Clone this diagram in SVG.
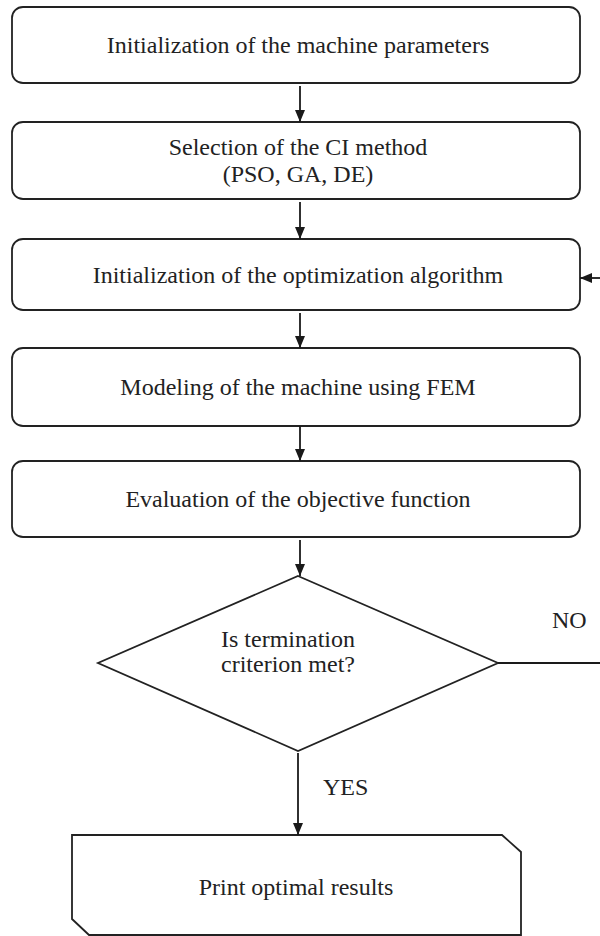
<svg xmlns="http://www.w3.org/2000/svg" width="600" height="936" viewBox="0 0 600 936">
  <style>
    .shape { fill: #ffffff; stroke: #222222; stroke-width: 1.8; }
    .label { font-family: "Liberation Serif", "Times New Roman", serif; font-size: 24px; fill: #222222; text-anchor: middle; }
    .side { font-family: "Liberation Serif", "Times New Roman", serif; font-size: 24px; fill: #222222; }
    .edge { fill: none; stroke: #1a1a1a; stroke-width: 1.8; }
  </style>
  <defs>
    <marker id="arrow" viewBox="0 0 12 10" refX="12" refY="5" markerWidth="12" markerHeight="10" markerUnits="userSpaceOnUse" orient="auto">
      <path d="M0,0 L12,5 L0,10 Z" fill="#1a1a1a"/>
    </marker>
  </defs>
  <rect width="600" height="936" fill="#ffffff"/>

  <g id="init-params">
    <rect class="shape" x="12" y="7" width="568" height="76" rx="11"/>
    <text class="label" x="298" y="53">Initialization of the machine parameters</text>
  </g>

  <g id="select-method">
    <rect class="shape" x="12" y="122" width="568" height="77" rx="11"/>
    <text class="label" x="298" y="155">Selection of the CI method</text>
    <text class="label" x="298" y="182">(PSO, GA, DE)</text>
  </g>

  <g id="init-algorithm">
    <rect class="shape" x="12" y="239" width="568" height="71" rx="11"/>
    <text class="label" x="298" y="283">Initialization of the optimization algorithm</text>
  </g>

  <g id="fem-model">
    <rect class="shape" x="12" y="348" width="568" height="78" rx="11"/>
    <text class="label" x="298" y="395">Modeling of the machine using FEM</text>
  </g>

  <g id="objective">
    <rect class="shape" x="12" y="461" width="568" height="76" rx="11"/>
    <text class="label" x="298" y="507">Evaluation of the objective function</text>
  </g>

  <g id="termination">
    <polygon class="shape" points="298,576 498,663 298,751 98,663"/>
    <text class="label" x="288" y="647">Is termination</text>
    <text class="label" x="288" y="672">criterion met?</text>
  </g>

  <g id="results">
    <polygon class="shape" points="72,835 502,835 521,852 521,935 89,935 72,919"/>
    <text class="label" x="296" y="895">Print optimal results</text>
  </g>

  <g id="connectors">
    <line class="edge" x1="300" y1="86" x2="300" y2="122" marker-end="url(#arrow)"/>
    <line class="edge" x1="300" y1="202" x2="300" y2="239" marker-end="url(#arrow)"/>
    <line class="edge" x1="300" y1="313" x2="300" y2="348" marker-end="url(#arrow)"/>
    <line class="edge" x1="300" y1="426" x2="300" y2="461" marker-end="url(#arrow)"/>
    <line class="edge" x1="300" y1="540" x2="300" y2="576" marker-end="url(#arrow)"/>
    <line class="edge" x1="298" y1="753" x2="298" y2="835" marker-end="url(#arrow)"/>
    <polyline class="edge" points="498,663 600,663"/>
    <line class="edge" x1="600" y1="278" x2="580" y2="278" marker-end="url(#arrow)"/>
    <text class="side" x="323" y="795">YES</text>
    <text class="side" x="552" y="628">NO</text>
  </g>
</svg>
